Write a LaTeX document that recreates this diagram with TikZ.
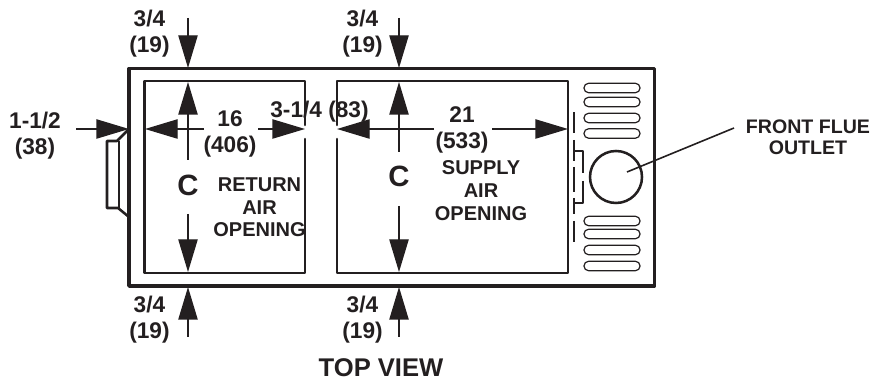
\documentclass[tikz,border=0pt]{standalone}
\usepackage{fontspec}
\setmainfont{Liberation Sans}
\usetikzlibrary{arrows.meta}
\definecolor{ink}{HTML}{231F20}
\tikzset{
  x=0.75pt,y=-0.75pt,
  every node/.style={inner sep=0pt,outer sep=0pt,align=center,text=ink,font=\fontsize{17pt}{19.5pt}\selectfont\bfseries},
  heavy/.style={draw=ink,line width=2.6pt,line join=round,line cap=round},
  medium/.style={draw=ink,line width=1.9pt,line join=round,line cap=round},
  thin line/.style={draw=ink,line width=1pt,line join=round},
  dim/.style={draw=ink,line width=1pt,-{Triangle[length=24.5pt,width=14.5pt,fill=ink]}},
  slot/.style={draw=ink,line width=0.9pt,rounded corners=3.4pt},
  big/.style={font=\fontsize{22pt}{24pt}\selectfont\bfseries},
  small/.style={font=\fontsize{15pt}{17pt}\selectfont\bfseries},
}
\begin{document}
\begin{tikzpicture}
\useasboundingbox (0,0) rectangle (871,384);
% outer casing
\draw[heavy] (129,68.5) rectangle (654.5,286);
% return opening
\draw[medium] (305,125) -- (305,81) -- (144.5,81) -- (144.5,273) -- (305,273) -- (305,139);
% supply opening
\draw[medium] (337,125) -- (337,81) -- (568,81) -- (568,273) -- (337,273) -- (337,139);
% handle
\draw[medium] (129,129) -- (117,141) -- (107,141) -- (107,208) -- (118,208) -- (129,217);
\draw[thin line] (119,141) -- (119,208);
% flue and damper
\draw[medium] (616,177) circle (26);
\foreach \a/\b in {112.5/133,140/161,167/192,198/214,221/242}{\draw[draw=ink,line width=1.2pt] (574,\a) -- (574,\b);}
\draw[thin line] (574,151) -- (583,151) -- (583,173);
\draw[thin line] (583,181) -- (583,203) -- (574,203);
% louvres
\foreach \y in {88,102,118,133.5,221,234,250,266}{\draw[slot] (584,\y-4.7) rectangle (640,\y+4.7);}
% dimension endpoints
\coordinate (t1a) at (188,18); \coordinate (t1b) at (188,68);
\coordinate (t2a) at (399,18); \coordinate (t2b) at (399,68);
\coordinate (u1a) at (188,160); \coordinate (u1b) at (188,82);
\coordinate (u2a) at (399,152); \coordinate (u2b) at (399,82);
\coordinate (d1a) at (188,214); \coordinate (d1b) at (188,272);
\coordinate (d2a) at (399,206); \coordinate (d2b) at (399,272);
\coordinate (b1a) at (188,337); \coordinate (b1b) at (188,287);
\coordinate (b2a) at (399,337); \coordinate (b2b) at (399,287);
\coordinate (la) at (76,129); \coordinate (lb) at (129,129);
\coordinate (r1a) at (204,129); \coordinate (r1b) at (145,129);
\coordinate (r2a) at (258,129); \coordinate (r2b) at (305,129);
\coordinate (s1a) at (434,129); \coordinate (s1b) at (337,129);
\coordinate (s2a) at (492,129); \coordinate (s2b) at (568,129);
\foreach \a/\b in {t1a/t1b,t2a/t2b,u1a/u1b,u2a/u2b,d1a/d1b,d2a/d2b,b1a/b1b,b2a/b2b,la/lb,r1a/r1b,r2a/r2b,s1a/s1b,s2a/s2b}{\draw[dim] (\a) -- (\b);}
% leader
\coordinate (leadend) at (734,128);
\coordinate (leadstart) at (627,172);
\draw[draw=ink,line width=1.2pt] (leadstart) -- (leadend);
% labels
\node (n1) at (149.5,33.5) {3/4\\(19)};
\node (n2) at (362.5,33.5) {3/4\\(19)};
\node (n3) at (149.5,320) {3/4\\(19)};
\node (n4) at (362.5,320) {3/4\\(19)};
\node (n5) at (35,135.5) {1-1/2\\(38)};
\node (n6) at (230,134) {16\\(406)};
\node (n7) at (319.5,112) {3-1/4 (83)};
\node (n8) at (462,130) {21\\(533)};
\node[big] (c1) at (188,185) {C};
\node[big] (c2) at (399,176) {C};
\node[small] (n9) at (259.5,207.5) {RETURN\\AIR\\OPENING};
\node[small] (n10) at (481,190.5) {SUPPLY\\AIR\\OPENING};
\node[font=\fontsize{14.7pt}{16pt}\selectfont\bfseries] (n11) at (808,137.5) {FRONT FLUE\\OUTLET};
\node[font=\fontsize{19.2pt}{22pt}\selectfont\bfseries] (n12) at (381,368) {TOP VIEW};
\end{tikzpicture}
\end{document}
